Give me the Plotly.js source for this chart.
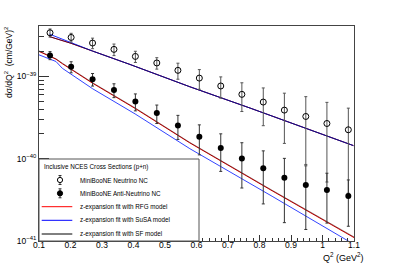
<!DOCTYPE html>
<html><head><meta charset="utf-8">
<script src="https://cdn.plot.ly/plotly-3.0.1.min.js"></script>
<style>html,body{margin:0;padding:0;background:#fff}#plot{width:394px;height:267px}</style>
</head><body><div id="plot"></div>
<script>
// ---- data ----
const q2Points = [0.135, 0.202, 0.270, 0.338, 0.406, 0.474, 0.541, 0.609, 0.677, 0.744, 0.812, 0.879, 0.947, 1.014, 1.082];
const nuNC     = [3.37e-39, 2.96e-39, 2.53e-39, 2.12e-39, 1.74e-39, 1.45e-39, 1.18e-39, 9.5e-40, 7.62e-40, 6.03e-40, 4.86e-40, 3.88e-40, 3.25e-40, 2.67e-40, 2.24e-40];
const nuNCErr  = [3.8e-40, 3.6e-40, 3.7e-40, 3.4e-40, 2.7e-40, 2.3e-40, 2.6e-40, 2.55e-40, 2.2e-40, 2.3e-40, 2.35e-40, 2.35e-40, 2.4e-40, 2.15e-40, 1.86e-40];
const nubarNC    = [1.79e-39, 1.30e-39, 9.2e-40, 6.8e-40, 4.95e-40, 3.57e-40, 2.53e-40, 1.84e-40, 1.35e-40, 1.0e-40, 7.62e-41, 5.87e-41, 4.78e-41, 4.15e-41, 3.51e-41];
const nubarNCErr = [2.0e-40, 2.0e-40, 1.6e-40, 1.3e-40, 1.15e-40, 9.0e-41, 8.2e-41, 7.3e-41, 6.5e-41, 5.6e-41, 4.8e-41, 4.2e-41, 3.4e-41, 2.5e-41, 2.0e-41];

// fit curves, neutrino
const q2FitNu   = [0.133, 0.202, 0.2705, 0.389, 0.579, 0.770, 1.098];
const nuRFG     = [3.03e-39, 2.51e-39, 2.02e-39, 1.39e-39, 7.45e-40, 4.11e-40, 1.44e-40];
const nuSuSA    = [3.25e-39, 2.58e-39, 2.02e-39, 1.39e-39, 7.45e-40, 4.11e-40, 1.44e-40];
const nuSF      = [3.03e-39, 2.51e-39, 2.02e-39, 1.39e-39, 7.45e-40, 4.11e-40, 1.44e-40];
// fit curves, anti-neutrino
const q2FitNubar = [0.1, 0.154, 0.174, 0.2705, 0.405, 0.579, 0.840, 1.1];
const nubarRFG   = [2.00e-39, 1.61e-39, 1.42e-39, 8.21e-40, 4.07e-40, 1.55e-40, 4.07e-41, 1.10e-41];
const nubarSuSA  = [1.82e-39, 1.51e-39, 1.25e-39, 7.04e-40, 3.49e-40, 1.32e-40, 3.49e-41, 9.1e-42];
const nubarSF    = [2.03e-39, 1.63e-39, 1.44e-39, 8.33e-40, 4.13e-40, 1.57e-40, 4.13e-41, 1.12e-41];

const xTickVals = [0.1,0.2,0.3,0.4,0.5,0.6,0.7,0.8,0.9,1.0,1.1];
const xTickText = ['0.1','0.2','0.3','0.4','0.5','0.6','0.7','0.8','0.9','1','1.1'];
const yTickVals = [1e-41, 1e-40, 1e-39];
const yTickText = ['10<sup>−41</sup>','10<sup>−40</sup>','10<sup>−39</sup>'];
const yMinorVals = [2e-41,3e-41,4e-41,5e-41,6e-41,7e-41,8e-41,9e-41,2e-40,3e-40,4e-40,5e-40,6e-40,7e-40,8e-40,9e-40,2e-39,3e-39,4e-39];

const legendHeader = 'Inclusive NCES Cross Sections (p+n)';
const legendLabels = ['MiniBooNE Neutrino NC','MiniBooNE Anti-Neutrino NC','z-expansion fit with RFG model','z-expansion fit with SuSA model','z-expansion fit with SF model'];

// ---- plotting ----
const FONT = 'Liberation Sans, Arial, Helvetica, sans-serif';
const L = 39, R = 354, T = 26, B = 241;
const px = v => (v - L) / (R - L);
const py = v => (B - v) / (B - T);

const lineTr = (x, y, color, op) => ({x, y, type:'scatter', mode:'lines', line:{color, width:1}, opacity: op || 1, showlegend:false, hoverinfo:'skip'});

const traces = [
  lineTr(q2FitNu, nuRFG, '#ff0000'),
  lineTr(q2FitNu, nuSuSA, '#2030ff'),
  lineTr(q2FitNu, nuSF, '#000040', 0.7),
  lineTr(q2FitNubar, nubarSuSA, '#3344ff'),
  lineTr(q2FitNubar, nubarRFG, '#e00000'),
  lineTr(q2FitNubar, nubarSF, '#300000', 0.5),
  {x:q2Points, y:nuNC, type:'scatter', mode:'markers', showlegend:false,
   error_y:{type:'data', array:nuNCErr, visible:true, color:'#555', thickness:1, width:1.5},
   marker:{symbol:'circle-open', size:6, color:'#000', line:{width:1, color:'#000'}}},
  {x:q2Points, y:nubarNC, type:'scatter', mode:'markers', showlegend:false,
   error_y:{type:'data', array:nubarNCErr, visible:true, color:'#333', thickness:1, width:1.5},
   marker:{symbol:'circle', size:6, color:'#000'}}
];

const shapes = [
  {type:'rect', xref:'paper', yref:'paper', x0:0, x1:px(199), y0:0, y1:py(159), fillcolor:'#fff', line:{color:'#555', width:1}, layer:'above'}
];
const ann = [];
ann.push({xref:'paper', yref:'paper', x:px(42), y:py(166.5), xanchor:'left', yanchor:'middle', showarrow:false, text:legendHeader, font:{family:FONT, size:6.3, color:'#000'}});
const rows = [180, 193.3, 206.7, 220.3, 234];
const mx = 60;
[0,1].forEach(i => {
  const yc = rows[i];
  shapes.push({type:'line', xref:'paper', yref:'paper', x0:px(mx), x1:px(mx), y0:py(yc-4.5), y1:py(yc+4.5), line:{color:'#333', width:1}, layer:'above'});
  shapes.push({type:'line', xref:'paper', yref:'paper', x0:px(mx-1.5), x1:px(mx+1.5), y0:py(yc-4.5), y1:py(yc-4.5), line:{color:'#333', width:1}, layer:'above'});
  shapes.push({type:'line', xref:'paper', yref:'paper', x0:px(mx-1.5), x1:px(mx+1.5), y0:py(yc+4.5), y1:py(yc+4.5), line:{color:'#333', width:1}, layer:'above'});
  shapes.push({type:'circle', xref:'paper', yref:'paper', xsizemode:'pixel', ysizemode:'pixel', xanchor:px(mx), yanchor:py(yc), x0:-2.6, x1:2.6, y0:-2.6, y1:2.6,
    fillcolor: i===0 ? '#fff' : '#000', line:{color:'#000', width:1}, layer:'above'});
});
const lcol = ['#ff0000','#0000ff','#000000'];
[2,3,4].forEach((i,k) => {
  shapes.push({type:'line', xref:'paper', yref:'paper', x0:px(41.7), x1:px(72.3), y0:py(rows[i]), y1:py(rows[i]), line:{color:lcol[k], width:1}, layer:'above'});
});
rows.forEach((yc,i) => ann.push({xref:'paper', yref:'paper', x:px(78), y:py(yc), xanchor:'left', yanchor:'middle', showarrow:false, text:legendLabels[i], font:{family:FONT, size:6.3, color:'#000'}}));
ann.push({xref:'paper', yref:'paper', x:px(8), y:py(63), xanchor:'center', yanchor:'middle', textangle:-90, showarrow:false,
  text:'dσ/dQ<sup>2</sup>  (cm/GeV)<sup>2</sup>', font:{family:FONT, size:8.5, color:'#000'}});
ann.push({xref:'paper', yref:'paper', x:px(366), y:py(257), xanchor:'right', yanchor:'middle', showarrow:false,
  text:'Q<sup>2</sup> (GeV<sup>2</sup>)', font:{family:FONT, size:9, color:'#000'}});

const layout = {
  width:394, height:267,
  margin:{l:L, r:394-R, t:T, b:267-B, pad:0},
  paper_bgcolor:'#fff', plot_bgcolor:'#fff',
  showlegend:false,
  font:{family:FONT, size:8.5, color:'#000'},
  xaxis:{range:[0.1,1.1], tickmode:'array', tickvals:xTickVals, ticktext:xTickText, ticks:'inside', ticklen:6, tickcolor:'#333',
    ticklabelstandoff:-4,
    showgrid:false, zeroline:false, showline:true, mirror:true, linecolor:'#444', linewidth:1,
    minor:{ticks:'inside', ticklen:3, dtick:0.02, tick0:0.1, tickcolor:'#333', showgrid:false},
    tickfont:{family:FONT, size:8.5}},
  yaxis:{type:'log', range:[-41, -38.39], tickmode:'array', tickvals:yTickVals, ticktext:yTickText, ticks:'inside', ticklen:10, tickcolor:'#333',
    showgrid:false, zeroline:false, showline:true, mirror:true, linecolor:'#444', linewidth:1,
    minor:{ticks:'inside', ticklen:5, tickmode:'array', tickvals:yMinorVals, tickcolor:'#333', showgrid:false},
    tickfont:{family:FONT, size:8.5}},
  shapes, annotations: ann
};
Plotly.newPlot('plot', traces, layout, {displayModeBar:false, staticPlot:true});
</script>
</body></html>
